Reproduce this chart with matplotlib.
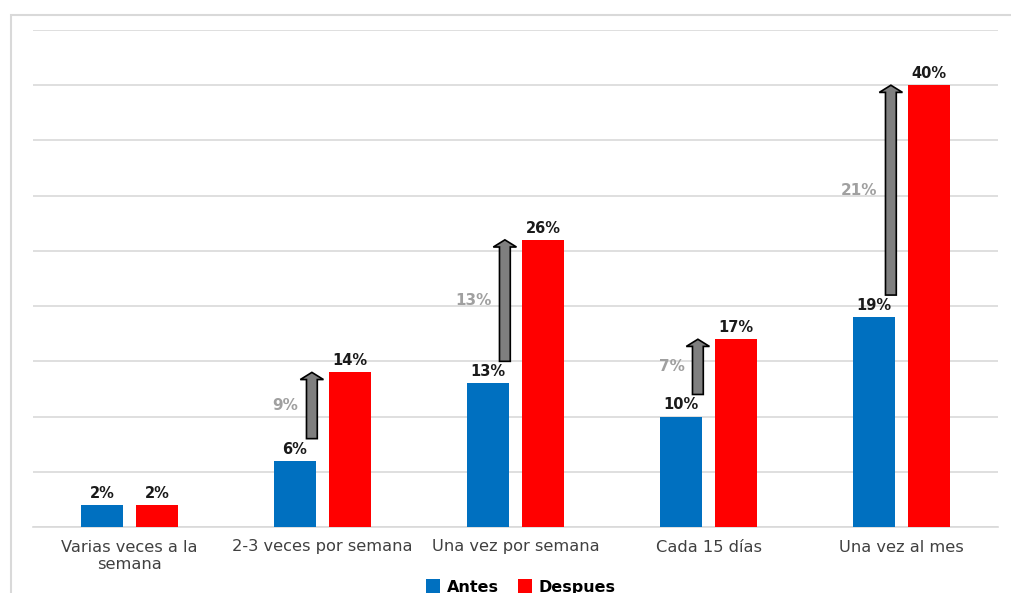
import numpy as np
import matplotlib.pyplot as plt
from matplotlib.patches import FancyArrow, Rectangle

# data
categories = ["Varias veces a la\nsemana", "2-3 veces por semana", "Una vez por semana",
              "Cada 15 días", "Una vez al mes"]
antes = [2, 6, 13, 10, 19]
despues = [2, 14, 26, 17, 40]
# change shown next to the arrows (None = no arrow)
cambio = [None, 9, 13, 7, 21]

BLUE = "#0070C0"
RED = "#FF0000"
GRID = "#d9d9d9"


def main():
    fig = plt.figure(figsize=(10.11, 5.93), dpi=100)
    ax = fig.add_axes([33 / 1011, 1 - 527 / 593, 965 / 1011, 497 / 593])

    # light frame around the chart area
    fig.patches.append(Rectangle((11 / 1011, -0.1), 1.2, 1 - 15 / 593 + 0.1,
                                 transform=fig.transFigure, fill=False,
                                 edgecolor=GRID, linewidth=1.5))

    x = np.arange(len(categories))
    w = 0.22
    off = 0.1425
    b1 = ax.bar(x - off, antes, w, color=BLUE, label="Antes", zorder=3)
    b2 = ax.bar(x + off, despues, w, color=RED, label="Despues", zorder=3)

    for bars, vals in ((b1, antes), (b2, despues)):
        for rect, v in zip(bars, vals):
            ax.annotate(f"{v}%", (rect.get_x() + rect.get_width() / 2, v),
                        xytext=(0, 3), textcoords="offset points",
                        ha="center", va="bottom", fontsize=10.5,
                        fontweight="bold", color="#1a1a1a")

    # arrows showing the increase
    for i, c in enumerate(cambio):
        if c is None:
            continue
        ax_x = x[i] - 0.055
        y0 = antes[i] + 2.0
        y1 = despues[i]
        ax.add_patch(FancyArrow(ax_x, y0, 0, y1 - y0, width=0.056,
                                head_width=0.12, head_length=0.65,
                                length_includes_head=True,
                                facecolor="#7f7f7f", edgecolor="black",
                                linewidth=1.2, zorder=4))
        ax.text(ax_x - 0.07, (y0 + y1) / 2, f"{c}%", ha="right", va="center",
                fontsize=11, fontweight="bold", color="#a0a0a0")

    ax.set_xlim(-0.5, len(categories) - 0.5)
    ax.set_ylim(0, 45)
    ax.set_yticks(np.arange(0, 46, 5))
    ax.set_yticklabels([])
    ax.tick_params(axis="y", length=0)
    ax.tick_params(axis="x", length=0, pad=9)
    ax.set_xticks(x)
    ax.set_xticklabels(categories, fontsize=11.7, color="#404040")
    ax.grid(axis="y", color=GRID, linewidth=1.2, zorder=0)
    for s in ("top", "right", "left"):
        ax.spines[s].set_visible(False)
    ax.spines["bottom"].set_color(GRID)
    ax.spines["bottom"].set_linewidth(1.2)

    fig.legend(handles=[b1, b2], loc="center", bbox_to_anchor=(0.515, 1 - 587 / 593),
               ncol=2, frameon=False, prop={"weight": "bold", "size": 11.5},
               handlelength=0.9, handleheight=0.9, handletextpad=0.4, columnspacing=1.2)

    fig.savefig("out.png", dpi=100)


if __name__ == "__main__":
    main()
